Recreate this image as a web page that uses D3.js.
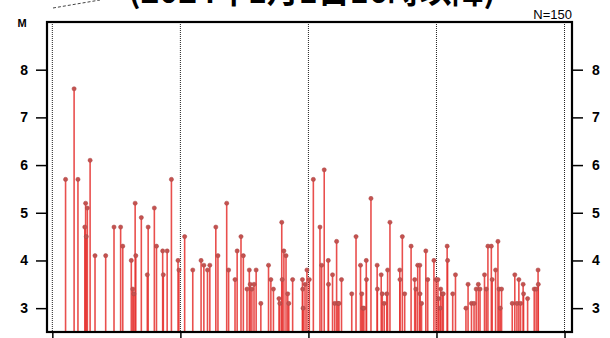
<!DOCTYPE html>
<html>
<head>
<meta charset="utf-8">
<script src="https://cdn.jsdelivr.net/npm/d3@7"></script>
<style>
  body { margin: 0; background: #fff; }
  svg { display: block; }
</style>
</head>
<body>
<svg id="svg" width="610" height="338"></svg>
<script>
// minutes after 16:00 on 2024-01-01, and magnitude of each event
const minutes = [6.2,10.2,12.0,15.2,15.6,16.4,15.9,17.7,20.0,25.0,
    28.9,32.0,33.0,37.0,37.7,38.2,38.8,39.1,41.7,44.9,
    44.5,47.8,48.8,51.7,52.0,53.8,55.8,58.9,59.3,62.0,
    65.8,69.7,71.0,72.7,73.8,76.6,77.6,81.7,82.6,85.6,
    86.6,88.4,89.5,91.2,92.3,92.7,93.5,94.5,95.5,97.7,
    101.3,102.4,103.6,106.2,106.6,107.5,107.7,108.5,109.5,110.3,
    110.8,112.6,117.2,117.3,117.5,118.4,119.3,120.4,122.3,125.4,
    126.2,127.4,129.3,129.4,131.3,132.3,133.2,133.8,134.3,135.5,
    140.3,142.3,144.4,145.0,145.5,146.0,147.1,147.2,149.3,152.2,
    152.3,154.1,154.6,155.5,156.7,157.1,158.2,162.8,162.9,164.0,
    165.1,168.1,169.8,170.3,171.2,172.2,172.3,173.0,175.0,175.9,
    178.8,179.8,180.7,181.0,181.7,182.0,182.7,183.2,185.0,185.2,
    187.6,188.9,193.8,194.8,196.4,197.6,198.6,199.6,200.4,202.5,
    203.3,204.1,205.7,206.1,207.7,208.8,209.3,209.9,210.5,215.5,
    216.7,217.7,218.6,219.4,220.6,220.8,222.7,225.8,226.7,227.6,
    227.7]
const mags = [5.7,7.6,5.7,4.7,5.2,5.1,4.5,6.1,4.1,4.1,
    4.7,4.7,4.3,4.0,3.4,3.3,5.2,4.1,4.9,4.7,
    3.7,5.1,4.3,4.2,3.7,4.2,5.7,4.0,3.8,4.5,
    3.8,4.0,3.9,3.8,3.9,4.7,4.1,5.2,3.8,3.6,
    4.2,4.5,4.1,3.4,3.8,3.5,3.4,3.5,3.8,3.1,
    3.9,3.6,3.4,3.2,3.1,4.8,3.6,4.2,4.1,3.3,
    3.1,3.6,3.6,3.4,3.0,3.5,3.8,3.6,5.7,4.7,
    3.9,5.9,4.0,3.5,3.7,3.1,4.4,3.1,3.1,3.6,
    3.3,4.5,3.9,3.3,3.0,3.0,4.0,3.6,5.3,3.9,
    3.4,3.7,3.3,3.1,3.3,3.8,4.8,3.8,3.6,4.5,
    3.3,4.3,3.6,3.4,3.9,3.9,3.3,3.1,4.2,3.6,
    4.0,3.6,3.6,3.2,3.0,3.4,3.3,3.3,4.3,4.0,
    3.3,3.7,3.0,3.5,3.1,3.1,3.4,3.5,3.4,3.7,
    3.4,4.3,4.3,3.6,3.8,4.4,3.4,3.0,3.4,3.1,
    3.7,3.1,3.6,3.1,3.5,3.3,3.2,3.4,3.4,3.8,
    3.5]
const magTicks = [3, 4, 5, 6, 7, 8]
const hourTicks = [0, 60, 120, 180, 240]   // 16時 .. 20時
const title = '(2024年1月1日16時以降)'
const countLabel = 'N=150'

const data = minutes.map((m, i) => ({ t: m, m: mags[i] }))

const plotL = 47, plotR = 572, plotT = 22, plotB = 332
const x = d3.scaleLinear().domain([-2.5, 243.5]).range([plotL, plotR])
const y = d3.scaleLinear().domain([2.5, 9]).range([plotB, plotT])

const svg = d3.select('#svg')

// title; the source image crops it at the top edge
svg.append('text')
    .attr('x', 312).attr('y', 3)
    .attr('text-anchor', 'middle')
    .style('font-family', '"Noto Sans CJK JP", sans-serif')
    .style('font-weight', 'bold')
    .style('font-size', '32px')
    .text(title)

svg.append('line')
    .attr('x1', 53).attr('y1', 8).attr('x2', 100).attr('y2', 0)
    .attr('stroke', '#444').attr('stroke-width', 1)
    .attr('stroke-dasharray', '3,2')

// hourly dotted grid
svg.append('g')
    .selectAll('line')
    .data(hourTicks)
    .enter()
    .append('line')
    .attr('x1', (d) => x(d)).attr('x2', (d) => x(d))
    .attr('y1', plotT).attr('y2', plotB)
    .attr('stroke', '#222')
    .attr('stroke-width', 1)
    .attr('stroke-dasharray', '1,1')

// stems
svg.append('g')
    .selectAll('line')
    .data(data)
    .enter()
    .append('line')
    .attr('x1', (d) => x(d.t)).attr('x2', (d) => x(d.t))
    .attr('y1', (d) => y(d.m)).attr('y2', plotB)
    .attr('stroke', '#e5302e')
    .attr('stroke-opacity', 0.85)
    .attr('stroke-width', 1.6)

// heads
svg.append('g')
    .selectAll('circle')
    .data(data)
    .enter()
    .append('circle')
    .attr('cx', (d) => x(d.t))
    .attr('cy', (d) => y(d.m))
    .attr('r', 2.1)
    .attr('fill', '#c4524f')
    .attr('stroke', '#a84444')
    .attr('stroke-width', 0.5)

const tickFont = (sel) => sel
    .style('font-family', '"Liberation Sans", Arial, sans-serif')
    .style('font-weight', 'bold')
    .style('font-size', '14px')

// left and right magnitude axes
const yl = svg.append('g')
    .attr('transform', `translate(${plotL},0)`)
    .call(d3.axisLeft(y).tickValues(magTicks).tickSize(11).tickPadding(8).tickFormat(d3.format('d')))
const yr = svg.append('g')
    .attr('transform', `translate(${plotR},0)`)
    .call(d3.axisRight(y).tickValues(magTicks).tickSize(11).tickPadding(9).tickFormat(d3.format('d')))
;[yl, yr].forEach((g) => {
    g.select('.domain').remove()
    g.selectAll('line').attr('stroke', '#000').attr('stroke-width', 1.5)
    g.selectAll('text').attr('fill', '#000').call(tickFont)
})

// bottom ticks (labels are below the visible area)
svg.append('g')
    .attr('transform', `translate(0,${plotB})`)
    .call(d3.axisBottom(x).tickValues(hourTicks).tickSize(8).tickFormat(''))
    .call((g) => g.select('.domain').remove())
    .selectAll('line').attr('stroke', '#000').attr('stroke-width', 1.5)

// frame
svg.append('rect')
    .attr('x', plotL).attr('y', plotT)
    .attr('width', plotR - plotL).attr('height', plotB - plotT)
    .attr('fill', 'none')
    .attr('stroke', '#000')
    .attr('stroke-width', 2.2)

svg.append('text')
    .attr('x', 22).attr('y', 27)
    .attr('text-anchor', 'middle')
    .style('font-family', '"Liberation Sans", Arial, sans-serif')
    .style('font-weight', 'bold')
    .style('font-size', '11px')
    .text('M')

svg.append('text')
    .attr('x', plotR).attr('y', 19)
    .attr('text-anchor', 'end')
    .style('font-family', '"Liberation Sans", Arial, sans-serif')
    .style('font-size', '13px')
    .text(countLabel)
</script>
</body>
</html>
